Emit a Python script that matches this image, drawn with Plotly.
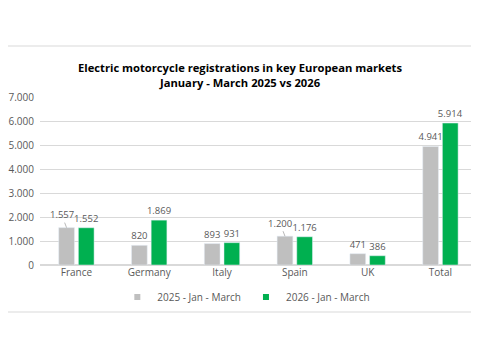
import plotly.graph_objects as go

categories = ["France", "Germany", "Italy", "Spain", "UK", "Total"]
values_2025 = [1557, 820, 893, 1200, 471, 4941]
values_2026 = [1552, 1869, 931, 1176, 386, 5914]
series_names = ["2025 - Jan - March", "2026 - Jan - March"]
y_ticks = [0, 1000, 2000, 3000, 4000, 5000, 6000, 7000]
title_lines = ["Electric motorcycle registrations in key European markets",
               "January - March 2025 vs 2026"]
leader_cats = ["France", "Spain"]

GRAY = "#BFBFBF"
GREEN = "#00B050"
TXT = "#595959"
FONT = "Open Sans"

def fmt(v):
    return f"{v:,}".replace(",", ".")

text_2025 = ["" if c in leader_cats else fmt(v) for c, v in zip(categories, values_2025)]
text_2026 = [fmt(v) for v in values_2026]

fig = go.Figure()
fig.add_trace(go.Bar(x=categories, y=values_2025, name=series_names[0], showlegend=False,
                     marker_color=GRAY, text=text_2025, textposition="outside",
                     constraintext="none",
                     textfont=dict(size=9.5, color=TXT, family=FONT), cliponaxis=False))
fig.add_trace(go.Bar(x=categories, y=values_2026, name=series_names[1], showlegend=False,
                     marker_color=GREEN, text=text_2026, textposition="outside",
                     constraintext="none",
                     textfont=dict(size=9.5, color=TXT, family=FONT), cliponaxis=False))
# legend entries with small square swatches
for name, col in zip(series_names, [GRAY, GREEN]):
    fig.add_trace(go.Scatter(x=[None], y=[None], mode="markers", name=name,
                             marker=dict(symbol="square", size=6, color=col)))

bargap = 0.46
slot = (1 - bargap) / 2
annotations = []
for c, v in zip(categories, values_2025):
    if c in leader_cats:
        i = categories.index(c)
        annotations.append(dict(
            x=i - slot / 2, y=v, xref="x", yref="y",
            text=fmt(v), showarrow=True, arrowhead=0, arrowwidth=0.8,
            arrowcolor="#A6A6A6", ax=-5, ay=-13, standoff=0,
            font=dict(size=9.5, color=TXT, family=FONT)))

fig.update_layout(
    width=471, height=351,
    margin=dict(l=32, r=0, t=89, b=94, autoexpand=False),
    paper_bgcolor="white", plot_bgcolor="white",
    barmode="group", bargap=bargap, bargroupgap=0.2,
    separators=",.",
    font=dict(family=FONT, size=10, color=TXT),
    title=dict(text="<br>".join(title_lines), x=(240 - 8 - 32) / 439, xref="paper",
               xanchor="center", y=1 - 64 / 351, yanchor="middle",
               font=dict(family=FONT, size=11.2, color="#000000", weight="bold")),
    xaxis=dict(range=[-0.5, 5.53], showline=False, ticks="", automargin=False,
               tickfont=dict(size=10, color=TXT)),
    yaxis=dict(range=[0, 7000], tickvals=y_ticks, tickformat=",d", automargin=False,
               gridcolor="#D9D9D9", gridwidth=1, zeroline=True, zerolinecolor="#D9D9D9",
               tickfont=dict(size=10, color=TXT), ticklabelstandoff=5),
    legend=dict(orientation="h", x=0.47, xanchor="center", y=-0.19, yanchor="middle",
                font=dict(size=10, color=TXT), itemwidth=30, traceorder="normal"),
    annotations=annotations,
    shapes=[dict(type="rect", xref="paper", yref="paper",
                 x0=(-6 - 32) / 439, x1=1.03, y0=(257 - 304) / 168, y1=(257 - 38) / 168,
                 line=dict(color="#D9D9D9", width=1), layer="below")],
)
fig.write_html("out.html")
